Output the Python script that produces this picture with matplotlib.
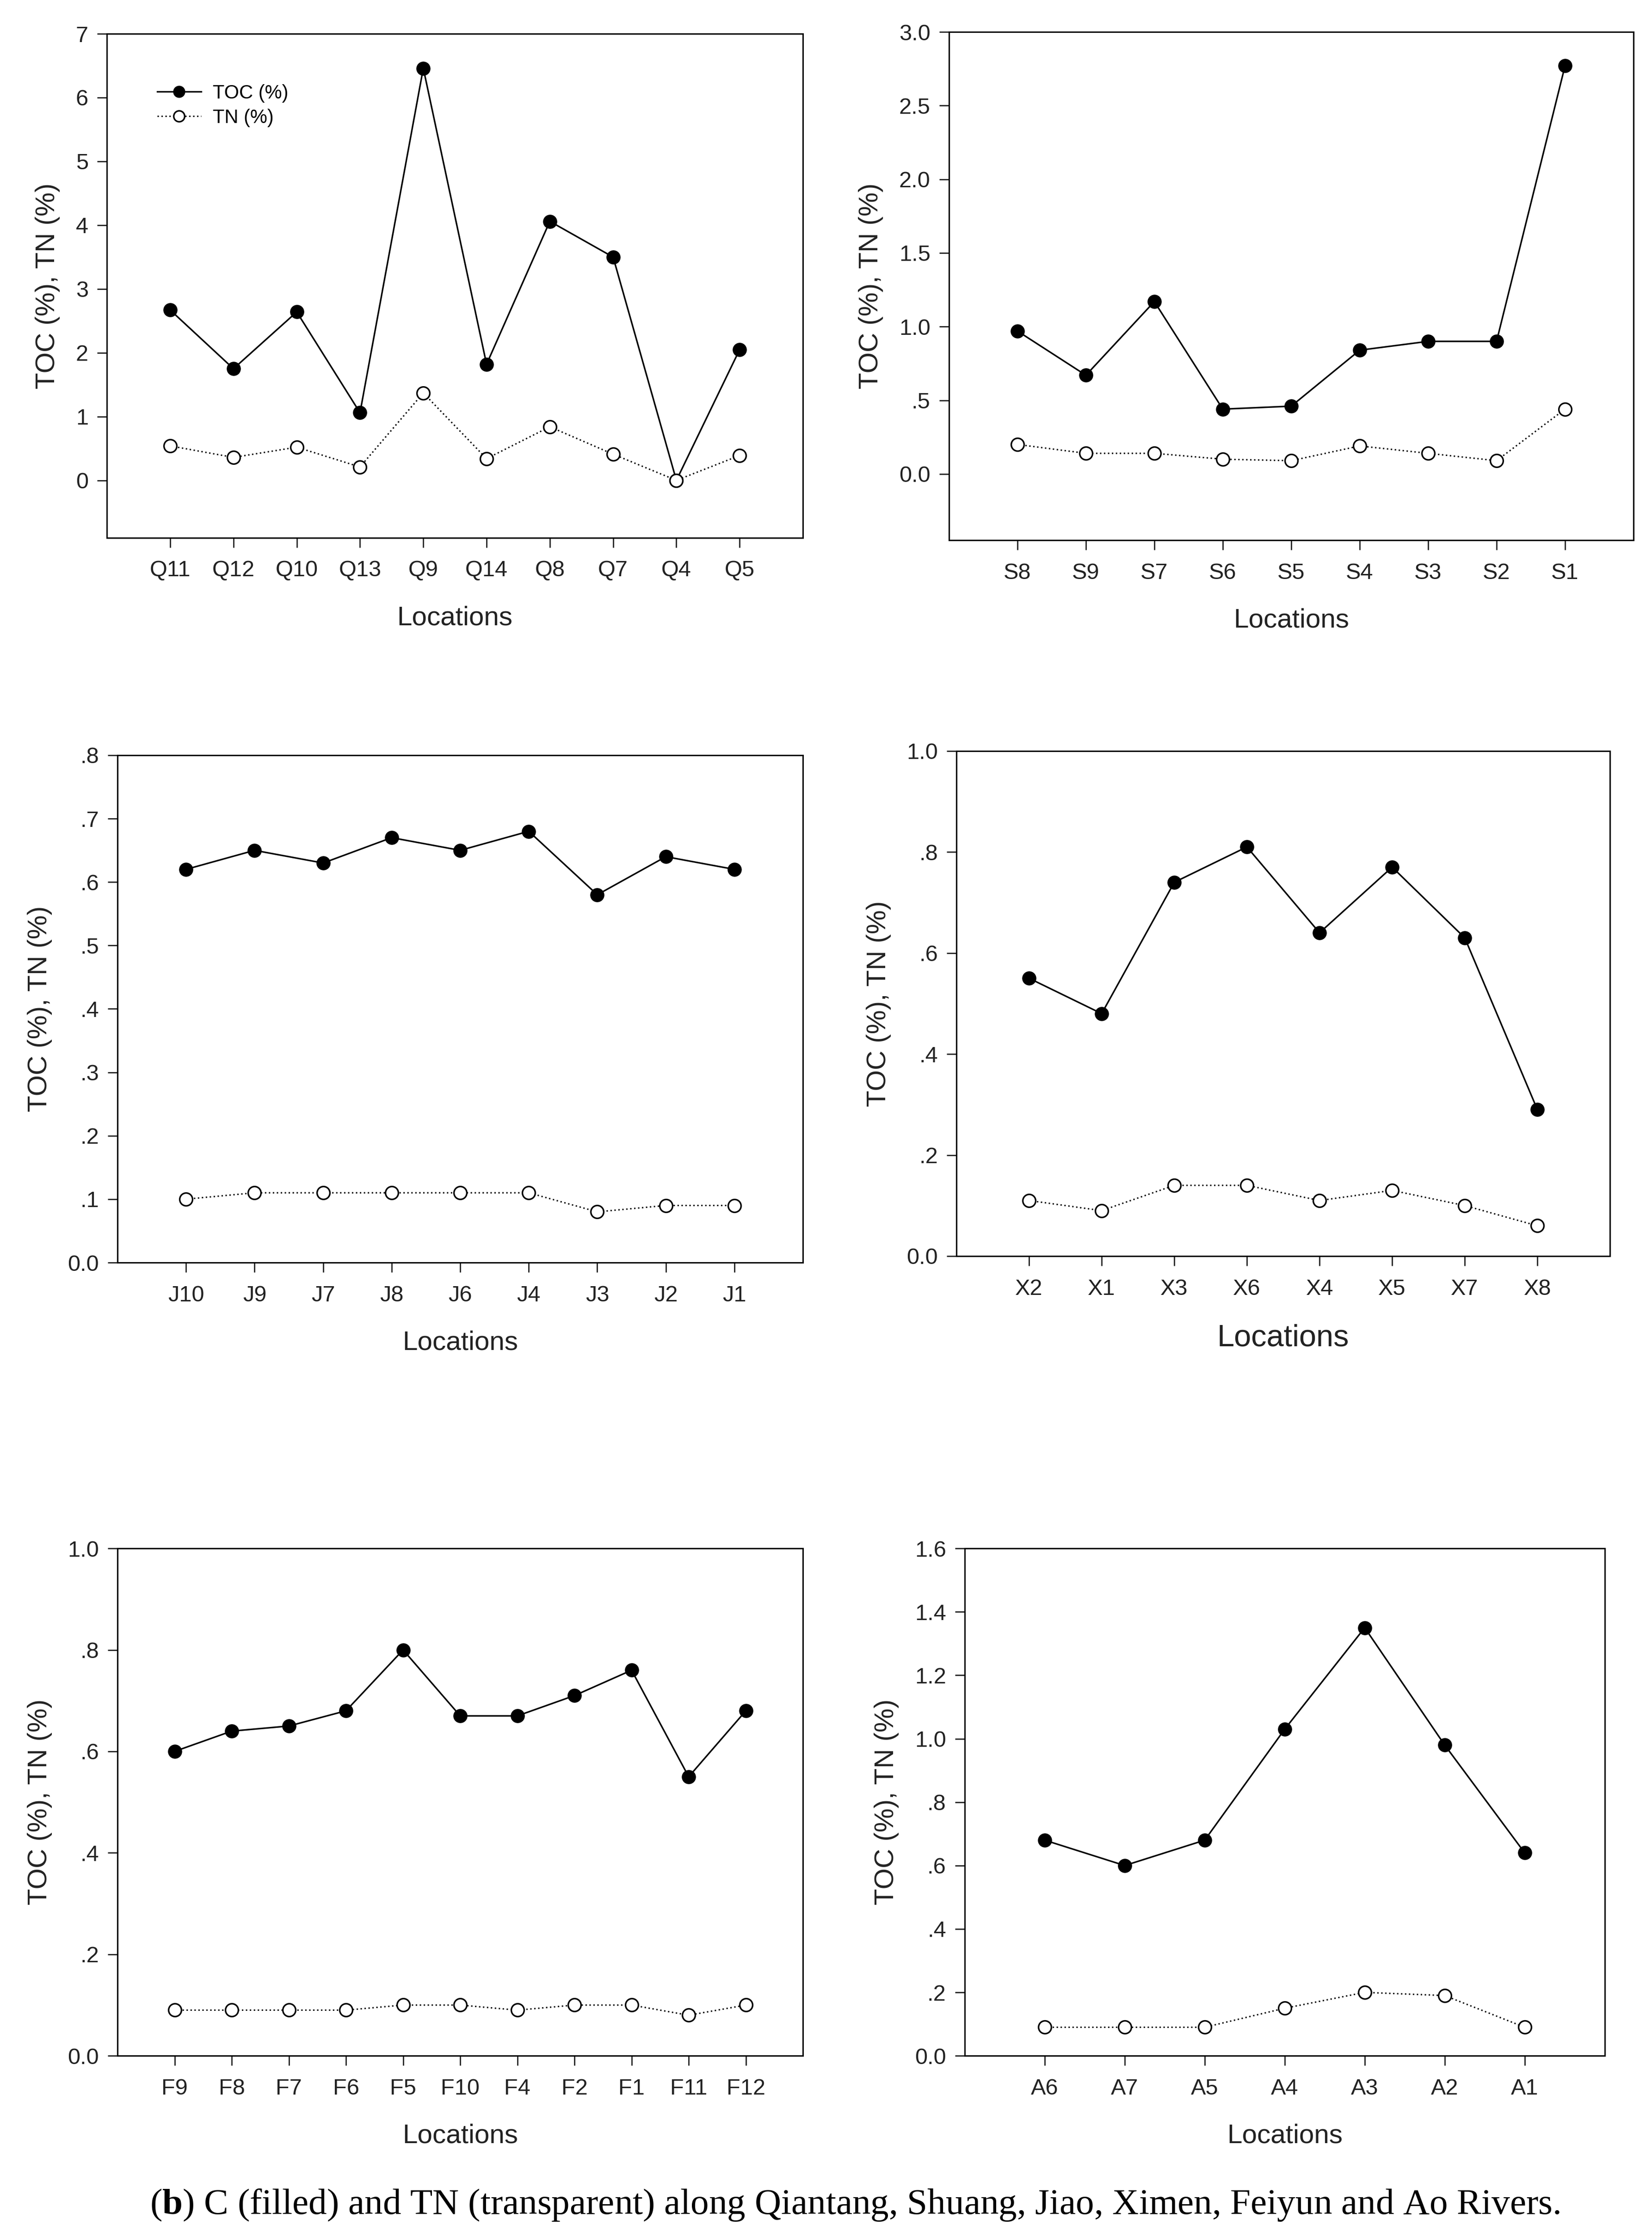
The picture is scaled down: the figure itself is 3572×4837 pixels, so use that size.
import matplotlib
matplotlib.use('Agg')
import matplotlib.pyplot as plt
from matplotlib.ticker import FuncFormatter, MultipleLocator

plt.rcParams['font.family'] = ['Liberation Sans', 'DejaVu Sans']
plt.rcParams['mathtext.fontset'] = 'custom'
plt.rcParams['mathtext.rm'] = 'Liberation Serif'
plt.rcParams['mathtext.bf'] = 'Liberation Serif:bold'

# Qiantang
q_sites = ['Q11', 'Q12', 'Q10', 'Q13', 'Q9', 'Q14', 'Q8', 'Q7', 'Q4', 'Q5']
q_toc = [2.67, 1.75, 2.64, 1.06, 6.46, 1.82, 4.06, 3.50, 0.0, 2.05]
q_tn = [0.54, 0.36, 0.52, 0.21, 1.37, 0.34, 0.84, 0.41, 0.0, 0.39]

# Shuang
s_sites = ['S8', 'S9', 'S7', 'S6', 'S5', 'S4', 'S3', 'S2', 'S1']
s_toc = [0.97, 0.67, 1.17, 0.44, 0.46, 0.84, 0.90, 0.90, 2.77]
s_tn = [0.20, 0.14, 0.14, 0.10, 0.09, 0.19, 0.14, 0.09, 0.44]

# Jiao
j_sites = ['J10', 'J9', 'J7', 'J8', 'J6', 'J4', 'J3', 'J2', 'J1']
j_toc = [0.62, 0.65, 0.63, 0.67, 0.65, 0.68, 0.58, 0.64, 0.62]
j_tn = [0.10, 0.11, 0.11, 0.11, 0.11, 0.11, 0.08, 0.09, 0.09]

# Ximen
x_sites = ['X2', 'X1', 'X3', 'X6', 'X4', 'X5', 'X7', 'X8']
x_toc = [0.55, 0.48, 0.74, 0.81, 0.64, 0.77, 0.63, 0.29]
x_tn = [0.11, 0.09, 0.14, 0.14, 0.11, 0.13, 0.10, 0.06]

# Feiyun
f_sites = ['F9', 'F8', 'F7', 'F6', 'F5', 'F10', 'F4', 'F2', 'F1', 'F11', 'F12']
f_toc = [0.60, 0.64, 0.65, 0.68, 0.80, 0.67, 0.67, 0.71, 0.76, 0.55, 0.68]
f_tn = [0.09, 0.09, 0.09, 0.09, 0.10, 0.10, 0.09, 0.10, 0.10, 0.08, 0.10]

# Ao
a_sites = ['A6', 'A7', 'A5', 'A4', 'A3', 'A2', 'A1']
a_toc = [0.68, 0.60, 0.68, 1.03, 1.35, 0.98, 0.64]
a_tn = [0.09, 0.09, 0.09, 0.15, 0.20, 0.19, 0.09]


def tick_fmt(decimals):
    def fmt(v, pos):
        if decimals == 0:
            return f'{v:.0f}'
        s = f'{v:.{decimals}f}'
        if s.startswith('0.') and abs(v) > 1e-9:
            s = s[1:]
        return s
    return FuncFormatter(fmt)


panels = [
    (q_sites, q_toc, q_tn, [0.0647, 0.7596, 0.4212, 0.2253], (-0.9, 7.0), 1, 0, 42),
    (s_sites, s_toc, s_tn, [0.5743, 0.7585, 0.4142, 0.2272], (-0.45, 3.0), 0.5, 1, 42),
    (j_sites, j_toc, j_tn, [0.0711, 0.4356, 0.4148, 0.2268], (0.0, 0.8), 0.1, 1, 42),
    (x_sites, x_toc, x_tn, [0.5788, 0.4385, 0.3955, 0.2258], (0.0, 1.0), 0.2, 1, 48),
    (f_sites, f_toc, f_tn, [0.0711, 0.0810, 0.4148, 0.2268], (0.0, 1.0), 0.2, 1, 42),
    (a_sites, a_toc, a_tn, [0.5838, 0.0810, 0.3873, 0.2268], (0.0, 1.6), 0.2, 1, 42),
]

fig = plt.figure(figsize=(35.73, 48.37), dpi=100)

for i, (sites, toc, tn, rect, ylim, step, dec, xl_size) in enumerate(panels):
    ax = fig.add_axes(rect)
    xs = list(range(len(sites)))
    ax.plot(xs, toc, '-', color='black', lw=2.4, marker='o', ms=21,
            mfc='black', mec='black', label='TOC (%)', zorder=3)
    ax.plot(xs, tn, color='black', lw=2.2, ls=(0, (1, 1.8)), marker='o', ms=20,
            mfc='white', mec='black', mew=2.4, label='TN (%)', zorder=4)
    ax.set_xlim(-1, len(sites))
    ax.set_ylim(*ylim)
    ax.set_xticks(xs)
    ax.set_xticklabels(sites)
    ax.yaxis.set_major_locator(MultipleLocator(step))
    ax.yaxis.set_major_formatter(tick_fmt(dec))
    ax.tick_params(axis='both', direction='out', length=15, width=2,
                   labelsize=35, colors='#222222')
    ax.tick_params(axis='x', pad=20)
    ax.tick_params(axis='y', pad=14)
    for sp in ax.spines.values():
        sp.set_linewidth(2.2)
    ax.set_xlabel('Locations', fontsize=xl_size, labelpad=38, color='#222222')
    ax.set_ylabel('TOC (%), TN (%)', fontsize=42, labelpad=24, color='#222222')
    if i == 0:
        ax.legend(loc='upper left', bbox_to_anchor=(0.072, 0.90), frameon=False,
                  fontsize=30, handlelength=2.3, handletextpad=0.6,
                  labelspacing=0.3, borderpad=0, borderaxespad=0, markerscale=0.85)

fig.text(0.5175, 0.0143,
         r'($\mathbf{b}$) C (filled) and TN (transparent) along Qiantang, Shuang, Jiao, Ximen, Feiyun and Ao Rivers.',
         ha='center', va='center', fontsize=57, family='Liberation Serif')

fig.savefig('out.png', dpi=100, facecolor='white')
